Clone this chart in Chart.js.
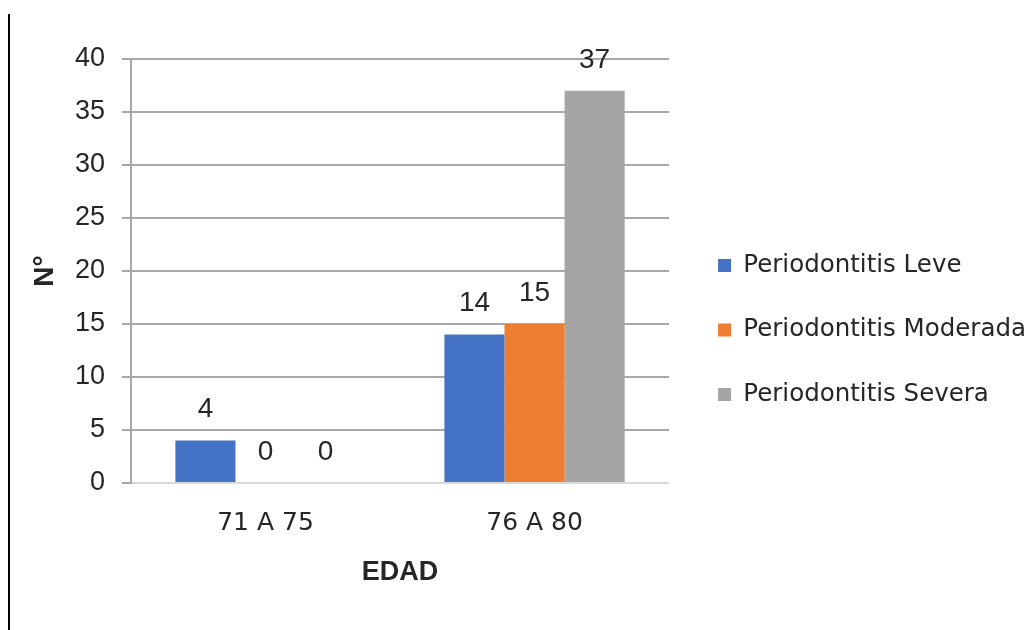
<!DOCTYPE html>
<html>
<head>
<meta charset="utf-8">
<script src="https://cdn.jsdelivr.net/npm/chart.js@4.4.1/dist/chart.umd.min.js"></script>
<style>
  html, body { margin: 0; padding: 0; background: #ffffff; }
  #wrap { position: relative; width: 1030px; height: 630px; }
  #frame { position: absolute; left: 8px; top: 14px; width: 2px; height: 616px; background: #000; }
  canvas { position: absolute; left: 0; top: 0; }
</style>
</head>
<body>
<div id="wrap">
  <canvas id="chart" width="1030" height="630"></canvas>
  <div id="frame"></div>
</div>
<script>
// Age groups on the x axis
const categories = ['71 A 75', '76 A 80'];

// Number of patients per severity level
const seriesNames = ['Periodontitis Leve', 'Periodontitis Moderada', 'Periodontitis Severa'];
const leve = [4, 14];
const moderada = [0, 15];
const severa = [0, 37];

const seriesColors = ['#4472C4', '#ED7D31', '#A5A5A5'];

const yTitle = 'N°';
const xTitle = 'EDAD';

const textColor = '#262626';
const gridColor = '#a8a8a8';

// Value printed above each bar
const valueLabels = {
  id: 'valueLabels',
  afterDatasetsDraw(chart) {
    const ctx = chart.ctx;
    ctx.save();
    ctx.font = '28px "Liberation Sans", Arial, sans-serif';
    ctx.fillStyle = textColor;
    ctx.textAlign = 'center';
    ctx.textBaseline = 'middle';
    chart.data.datasets.forEach((ds, i) => {
      const meta = chart.getDatasetMeta(i);
      meta.data.forEach((bar, j) => {
        ctx.fillText(String(ds.data[j]), bar.x, bar.y - 31);
      });
    });
    ctx.restore();
  }
};

// Leave a small gap between the plot and the legend
const legendGap = {
  id: 'legendGap',
  afterLayout(chart) {
    const lg = chart.legend;
    if (!lg) return;
    const dx = chart.chartArea.right + 9 - lg.left;
    lg.left += dx;
    lg.right += dx;
  }
};

new Chart(document.getElementById('chart'), {
  type: 'bar',
  data: {
    labels: categories,
    datasets: [
      { label: seriesNames[0], data: leve, backgroundColor: seriesColors[0] },
      { label: seriesNames[1], data: moderada, backgroundColor: seriesColors[1] },
      { label: seriesNames[2], data: severa, backgroundColor: seriesColors[2] }
    ]
  },
  plugins: [valueLabels, legendGap],
  options: {
    responsive: false,
    animation: false,
    devicePixelRatio: 1,
    layout: { padding: { top: 30, right: 3, bottom: 0, left: 0 } },
    datasets: {
      bar: { barPercentage: 1.0, categoryPercentage: 0.67, borderWidth: 0 }
    },
    plugins: {
      tooltip: { enabled: false },
      legend: {
        position: 'right',
        align: 'center',
        maxWidth: 400,
        labels: {
          font: { family: '"DejaVu Sans", sans-serif', size: 24.5 },
          color: textColor,
          boxWidth: 13,
          boxHeight: 13,
          padding: 40
        }
      }
    },
    scales: {
      x: {
        grid: { display: false, drawTicks: false },
        border: { display: false },
        ticks: {
          color: textColor,
          font: { family: '"DejaVu Sans", sans-serif', size: 25 },
          padding: 25
        },
        title: {
          display: true,
          text: xTitle,
          color: textColor,
          font: { family: '"Liberation Sans", Arial, sans-serif', size: 27, weight: 'bold' },
          padding: { top: 0, bottom: 41 }
        },
        afterFit(scale) { scale.height = 147; }
      },
      y: {
        min: 0,
        max: 40,
        ticks: {
          stepSize: 5,
          color: textColor,
          font: { family: '"Liberation Sans", Arial, sans-serif', size: 27 },
          padding: 17
        },
        grid: {
          color: (c) => (c.tick && c.tick.value === 0 ? '#d9d9d9' : gridColor),
          tickColor: gridColor,
          tickLength: 9,
          lineWidth: 2
        },
        border: { color: gridColor, width: 2 },
        title: {
          display: true,
          text: yTitle,
          color: textColor,
          font: { family: '"Liberation Sans", Arial, sans-serif', size: 28, weight: 'bold' },
          padding: { top: 28, bottom: 0 }
        },
        afterFit(scale) {
          scale.width = 131;
          scale.paddingTop = 59;
        }
      }
    }
  }
});
</script>
</body>
</html>
